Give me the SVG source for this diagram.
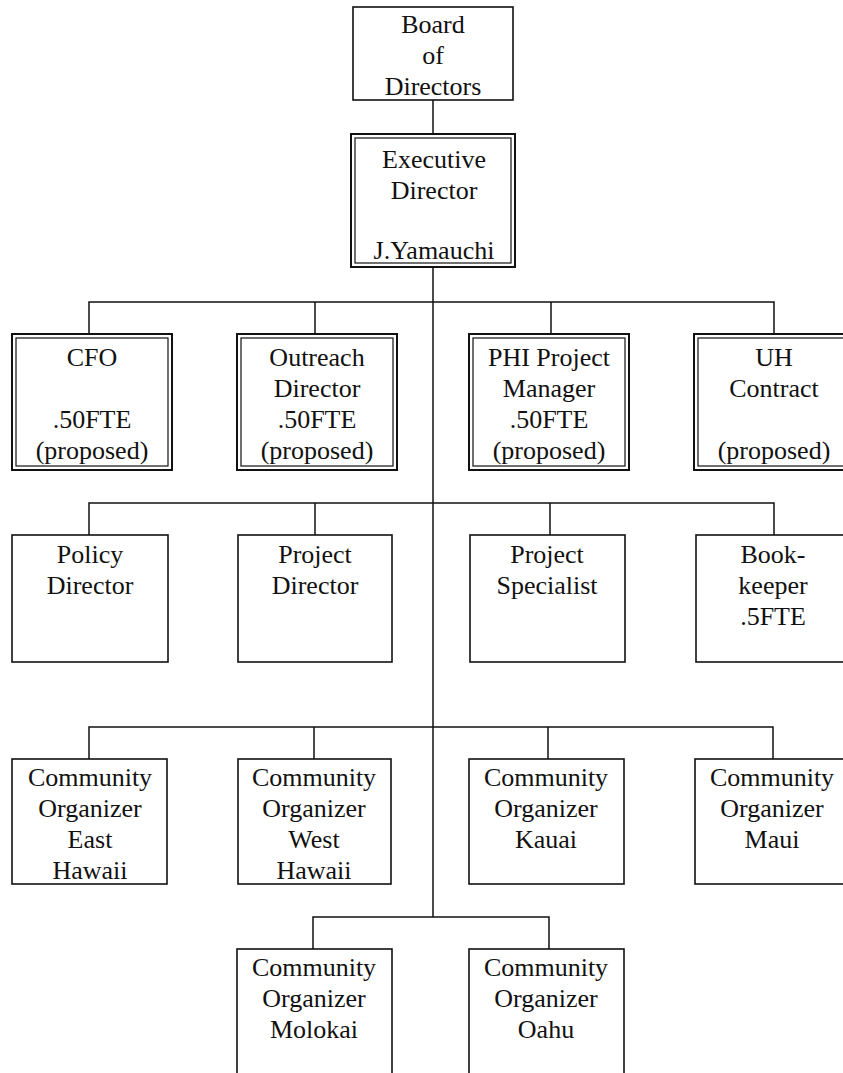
<svg xmlns="http://www.w3.org/2000/svg" width="843" height="1073" viewBox="0 0 843 1073">
<style>
.box{fill:#fff;stroke:#111;stroke-width:1.6}
.outer{fill:#fff;stroke:#111;stroke-width:2}
.inner{fill:none;stroke:#111;stroke-width:1.2}
.conn{fill:none;stroke:#111;stroke-width:1.5}
text{font-family:"Liberation Serif","Times New Roman",serif;font-size:26px;fill:#111;text-anchor:middle}
</style>
<rect width="843" height="1073" fill="#fff"/>
<g id="connectors">
<path class="conn" d="M433 100V134"/>
<path class="conn" d="M433 267V917"/>
<path class="conn" d="M89 334V302H774V334M315 302V334M551 302V334"/>
<path class="conn" d="M89 535V503H774V535M315 503V535M550 503V535"/>
<path class="conn" d="M89 759V727H773V759M314 727V759M548 727V759"/>
<path class="conn" d="M313 949V917H549V949"/>
</g>
<g id="board">
<rect class="box" x="353" y="7" width="160" height="93"/>
<text x="433" y="33">Board</text>
<text x="433" y="64">of</text>
<text x="433" y="95">Directors</text>
</g>
<g id="executive">
<rect class="outer" x="351" y="134" width="164" height="133"/>
<rect class="inner" x="355" y="138" width="156" height="125"/>
<text x="434" y="168">Executive</text>
<text x="434" y="199">Director</text>
<text x="434" y="259">J.Yamauchi</text>
</g>
<g id="cfo">
<rect class="outer" x="12" y="334" width="160" height="136"/>
<rect class="inner" x="16" y="338" width="152" height="128"/>
<text x="92" y="366">CFO</text>
<text x="92" y="428">.50FTE</text>
<text x="92" y="459">(proposed)</text>
</g>
<g id="outreach">
<rect class="outer" x="237" y="334" width="160" height="136"/>
<rect class="inner" x="241" y="338" width="152" height="128"/>
<text x="317" y="366">Outreach</text>
<text x="317" y="397">Director</text>
<text x="317" y="428">.50FTE</text>
<text x="317" y="459">(proposed)</text>
</g>
<g id="phi">
<rect class="outer" x="469" y="334" width="160" height="136"/>
<rect class="inner" x="473" y="338" width="152" height="128"/>
<text x="549" y="366">PHI Project</text>
<text x="549" y="397">Manager</text>
<text x="549" y="428">.50FTE</text>
<text x="549" y="459">(proposed)</text>
</g>
<g id="uh">
<rect class="outer" x="694" y="334" width="160" height="136"/>
<rect class="inner" x="698" y="338" width="152" height="128"/>
<text x="774" y="366">UH</text>
<text x="774" y="397">Contract</text>
<text x="774" y="459">(proposed)</text>
</g>
<g id="policy">
<rect class="box" x="12" y="535" width="156" height="127"/>
<text x="90" y="563">Policy</text>
<text x="90" y="594">Director</text>
</g>
<g id="projdir">
<rect class="box" x="238" y="535" width="154" height="127"/>
<text x="315" y="563">Project</text>
<text x="315" y="594">Director</text>
</g>
<g id="specialist">
<rect class="box" x="470" y="535" width="155" height="127"/>
<text x="547" y="563">Project</text>
<text x="547" y="594">Specialist</text>
</g>
<g id="bookkeeper">
<rect class="box" x="696" y="535" width="154" height="127"/>
<text x="773" y="563">Book-</text>
<text x="773" y="594">keeper</text>
<text x="773" y="625">.5FTE</text>
</g>
<g id="east">
<rect class="box" x="12" y="759" width="155" height="125"/>
<text x="90" y="786">Community</text>
<text x="90" y="817">Organizer</text>
<text x="90" y="848">East</text>
<text x="90" y="879">Hawaii</text>
</g>
<g id="west">
<rect class="box" x="238" y="759" width="153" height="125"/>
<text x="314" y="786">Community</text>
<text x="314" y="817">Organizer</text>
<text x="314" y="848">West</text>
<text x="314" y="879">Hawaii</text>
</g>
<g id="kauai">
<rect class="box" x="469" y="759" width="155" height="125"/>
<text x="546" y="786">Community</text>
<text x="546" y="817">Organizer</text>
<text x="546" y="848">Kauai</text>
</g>
<g id="maui">
<rect class="box" x="695" y="759" width="154" height="125"/>
<text x="772" y="786">Community</text>
<text x="772" y="817">Organizer</text>
<text x="772" y="848">Maui</text>
</g>
<g id="molokai">
<rect class="box" x="237" y="949" width="155" height="135"/>
<text x="314" y="976">Community</text>
<text x="314" y="1007">Organizer</text>
<text x="314" y="1038">Molokai</text>
</g>
<g id="oahu">
<rect class="box" x="469" y="949" width="155" height="135"/>
<text x="546" y="976">Community</text>
<text x="546" y="1007">Organizer</text>
<text x="546" y="1038">Oahu</text>
</g>
</svg>
